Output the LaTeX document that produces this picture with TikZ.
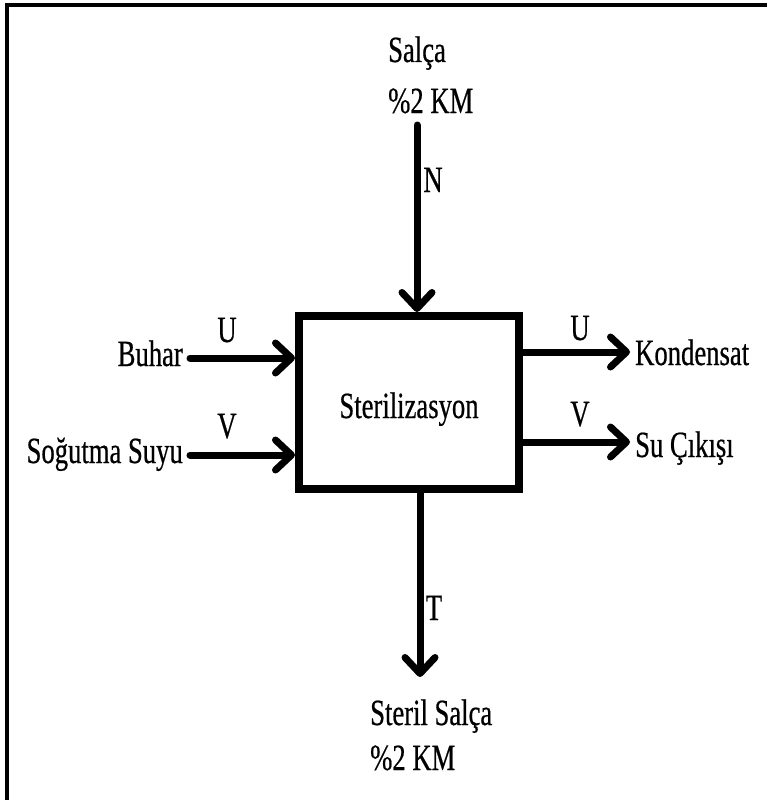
\documentclass[tikz,border=0pt]{standalone}
\usepackage{fontspec}
\setmainfont{Liberation Serif}[FakeStretch=0.72,FakeBold=0.5]
\usetikzlibrary{arrows.meta}
\begin{document}
\begin{tikzpicture}[x=1pt,y=-1pt,
  flow/.style={line width=7pt,line cap=round,-{Straight Barb[length=16pt,width=30pt,line cap=round,line join=round]}},
  lbl/.style={font=\fontsize{37}{42}\selectfont,inner sep=0pt},
  procbox/.style={draw,line width=8pt,minimum width=220pt,minimum height=173pt,inner sep=0pt}]
\useasboundingbox (0,0) rectangle (767,800);
\draw[line width=3.5pt] (7,800) -- (7,5) -- (767,5);
\node[procbox] (box) at (409,402.5) {};
\node[lbl,anchor=base] (ster) at (409,418) {Sterilizasyon};
% top input
\node[lbl,anchor=base west] (salca) at (388,62) {Salça};
\node[lbl,anchor=base west] (salcakm) at (388,113) {\%2 KM};
\coordinate (ntop) at (417,125);
\draw[flow] (ntop) -- (ntop |- box.north);
\node[lbl,anchor=base] (nlab) at (433,192) {N};
% bottom output
\coordinate (tbot) at (420,677);
\draw[flow] (tbot |- box.south) -- (tbot);
\node[lbl,anchor=base] (tlab) at (434,620) {T};
\node[lbl,anchor=base west] (steril) at (370,725) {Steril Salça};
\node[lbl,anchor=base west] (sterilkm) at (370,770) {\%2 KM};
% left inputs
\coordinate (bs) at (190,358);
\draw[flow] (bs) -- (bs -| box.west);
\node[lbl,anchor=base east] (buhar) at (183,366) {Buhar};
\node[lbl,anchor=base] (ul) at (227,342) {U};
\coordinate (ss) at (190,455);
\draw[flow] (ss) -- (ss -| box.west);
\node[lbl,anchor=base east] (sogutma) at (183,463) {Soğutma Suyu};
\node[lbl,anchor=base] (vl) at (227,438) {V};
% right outputs
\coordinate (ke) at (630,352);
\draw[flow] (ke -| box.east) -- (ke);
\node[lbl,anchor=base west] (kond) at (635,365) {Kondensat};
\node[lbl,anchor=base] (ur) at (580,340) {U};
\coordinate (se) at (630,442);
\draw[flow] (se -| box.east) -- (se);
\node[lbl,anchor=base west] (suc) at (635,457) {Su Çıkışı};
\node[lbl,anchor=base] (vr) at (580,426) {V};
\end{tikzpicture}
\end{document}
